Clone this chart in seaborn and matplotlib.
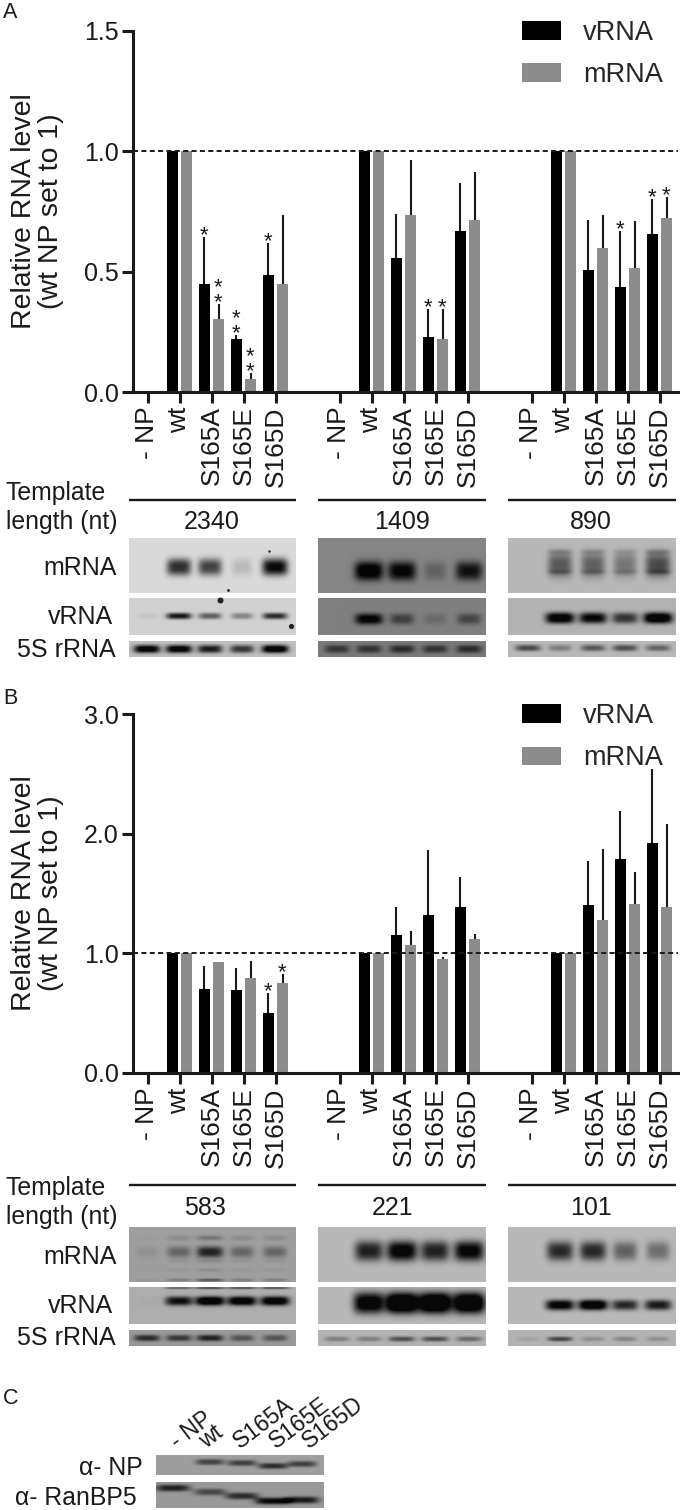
import numpy as np
import pandas as pd
import matplotlib
matplotlib.use("Agg")
import matplotlib.pyplot as plt
import seaborn as sns

sns.set_theme(style="ticks")
plt.rcParams['font.family'] = ['Liberation Sans', 'DejaVu Sans']

W, H = 680, 1510
labels = ['- NP', 'wt', 'S165A', 'S165E', 'S165D']
positions = [0, 1, 2, 3, 4, 6, 7, 8, 9, 10, 12, 13, 14, 15, 16]
tick_labels = labels * 3

A_vrna = [0, 1, .45, .22, .485, 0, 1, .555, .23, .67, 0, 1, .505, .435, .655]
A_mrna = [0, 1, .305, .055, .45, 0, 1, .735, .22, .715, 0, 1, .60, .515, .725]
A_vrna_top = [0, 1, .645, .235, .62, 0, 1, .74, .345, .87, 0, 1, .715, .67, .80]
A_mrna_top = [0, 1, .365, .08, .735, 0, 1, .965, .345, .915, 0, 1, .735, .71, .81]
A_stars = [(2, 'v', 1), (2, 'm', 2), (3, 'v', 2), (3, 'm', 2), (4, 'v', 1),
           (9, 'v', 1), (9, 'm', 1), (15, 'v', 1), (16, 'v', 1), (16, 'm', 1)]

B_vrna = [0, 1, .70, .69, .50, 0, 1, 1.15, 1.32, 1.39, 0, 1, 1.40, 1.79, 1.92]
B_mrna = [0, 1, .93, .79, .75, 0, 1, 1.07, .95, 1.12, 0, 1, 1.28, 1.41, 1.39]
B_vrna_top = [0, 1, .89, .88, .67, 0, 1, 1.39, 1.86, 1.64, 0, 1, 1.77, 2.19, 2.54]
B_mrna_top = [0, 1, .93, .94, .83, 0, 1, 1.19, .97, 1.16, 0, 1, 1.87, 1.68, 2.08]
B_stars = [(4, 'v', 1), (4, 'm', 1)]

colors = {'vRNA': '#000000', 'mRNA': '#8c8c8c'}
fig = plt.figure(figsize=(W / 100, H / 100), dpi=100)
LEFT, RIGHT = 133, 678


def make_axes(top, bottom):
    return fig.add_axes([LEFT / W, 1 - bottom / H, (RIGHT - LEFT) / W, (bottom - top) / H])


def bars(ax, vr, mr, vt, mt, stars, ymax, yticks):
    df = pd.DataFrame({'pos': positions * 2, 'value': vr + mr,
                       'rna': ['vRNA'] * 15 + ['mRNA'] * 15})
    sns.barplot(data=df, x='pos', y='value', hue='rna', hue_order=['vRNA', 'mRNA'],
                palette=colors, native_scale=True, width=.875, gap=.18, ax=ax,
                errorbar=None, saturation=1, linewidth=0, zorder=2)
    off = .219
    for p, v, t in zip(positions, vr, vt):
        if t > v:
            ax.plot([p - off, p - off], [v, t], color='k', lw=1.5, solid_capstyle='butt', zorder=3)
    for p, v, t in zip(positions, mr, mt):
        if t > v:
            ax.plot([p + off, p + off], [v, t], color='k', lw=1.5, solid_capstyle='butt', zorder=3)
    ax.axhline(1, color='k', lw=1.4, ls=(0, (2.6, 1.7)), zorder=4)
    idx = {p: i for i, p in enumerate(positions)}
    for p, kind, n in stars:
        i = idx[p]
        top = vt[i] if kind == 'v' else mt[i]
        xp = p - off if kind == 'v' else p + off
        ax.annotate('\n'.join('*' * n), (xp, top), xytext=(0, -2.9), textcoords='offset points',
                    ha='center', va='baseline', fontsize=16, color='k', linespacing=.62,
                    annotation_clip=False)
    ax.set_xlim((LEFT - 147.5) / 32, (RIGHT - 147.5) / 32)
    ax.set_ylim(0, ymax)
    ax.set_xticks(positions)
    ax.set_xticklabels(tick_labels, rotation=90, fontsize=19)
    ax.set_yticks(yticks)
    ax.set_yticklabels([f'{t:.1f}' for t in yticks], fontsize=18)
    ax.tick_params(axis='both', width=2.2, length=7.8, color='k', labelcolor='k', pad=2.5)
    ax.set_xlabel('')
    ax.set_ylabel('Relative RNA level\n(wt NP set to 1)', fontsize=20.5, color='k', linespacing=1.05)
    ax.yaxis.set_label_coords((64 - LEFT) / (RIGHT - LEFT), .5)
    sns.despine(ax=ax)
    for s in ('left', 'bottom'):
        ax.spines[s].set_linewidth(2.2)
        ax.spines[s].set_color('k')
    ax.patch.set_alpha(0)
    handles, names = ax.get_legend_handles_labels()
    ax.legend(handles, names, frameon=False, fontsize=19.5, loc='upper left',
              bbox_to_anchor=((522 - LEFT) / (RIGHT - LEFT), 1.03), handlelength=1.43,
              handleheight=.7, labelspacing=.6, handletextpad=.82, borderpad=0, borderaxespad=0)


axA = make_axes(31, 392)
bars(axA, A_vrna, A_mrna, A_vrna_top, A_mrna_top, A_stars, 1.5, [0, .5, 1, 1.5])
axB = make_axes(714, 1073)
bars(axB, B_vrna, B_mrna, B_vrna_top, B_mrna_top, B_stars, 3.0, [0, 1, 2, 3])

# overlay in pixel coordinates for blots and annotations
ov = fig.add_axes([0, 0, 1, 1], zorder=5)
ov.patch.set_alpha(0)
ov.axis('off')

lanes1 = [147, 179, 210, 242, 275]
lanes2 = [337, 369, 402, 435, 469]
lanes3 = [528, 560, 593, 625, 658]
cols = [(129, 296), (318, 486), (508, 676)]
laneset = [lanes1, lanes2, lanes3]

# band strengths (0-1) for lanes - NP, wt, S165A, S165E, S165D
# each row: (top, bottom, background, centre, sigma, strengths)
A1 = [(538, 593, .85, 567, 8.5, [0, .55, .48, .1, .68]),
      (598, 635, .82, 616, 3.2, [.04, .62, .38, .25, .55]),
      (641, 657, .75, 649, 4, [.75, .75, .6, .5, .8])]
A2 = [(538, 593, .52, 571, 9.5, [0, .8, .72, .18, .62]),
      (598, 635, .50, 619, 5.5, [0, .72, .35, .12, .32]),
      (641, 657, .48, 649, 4, [.4, .42, .46, .42, .46])]
A3 = [(538, 593, .72, 565, 12, [0, .36, .33, .25, .42]),
      (598, 635, .70, 618, 5.5, [0, .8, .7, .5, .85]),
      (641, 657, .72, 648, 3.2, [.42, .22, .36, .4, .32])]
B1 = [(1227, 1282, .62, 1252, 5.5, [.06, .25, .55, .25, .25]),
      (1287, 1324, .68, 1301, 4.6, [.02, .65, .85, .8, .8]),
      (1330, 1346, .60, 1338, 3.2, [.5, .45, .55, .32, .32])]
B2 = [(1227, 1282, .72, 1251, 10, [0, .58, .75, .58, .72]),
      (1287, 1324, .72, 1303, 10.5, [0, .8, 1, 1, .95]),
      (1330, 1346, .70, 1339, 2.6, [.2, .2, .38, .38, .28])]
B3 = [(1227, 1282, .72, 1251, 9.5, [0, .55, .55, .33, .28]),
      (1287, 1324, .72, 1305, 5.2, [0, .75, .85, .55, .6]),
      (1330, 1346, .70, 1339, 2.4, [.07, .42, .14, .18, .14])]
C_lanes = [173, 210, 242, 273, 302]
C1 = (1455, 1475, .62, [1462, 1462, 1463, 1466, 1464], 3, [0, .4, .42, .5, .42])
C2 = (1482, 1508, .60, [1488, 1492, 1496, 1501, 1500], 3.4, [.55, .38, .5, .68, .58])
B1_extra = [(1238, 2.5, .5), (1261, 2, .25), (1270, 2, .2), (1280, 1.5, .9)]
B1v_extra = [(1288, 1.2, .7)]
A3_extra = [(552, 3, .5), (572, 2.5, .5)]
A1_spots = [(220, 600, 3), (291, 626, 2.6), (228, 590, 1.4), (269, 551, 1.2)]


def blot(x0, x1, row, lanes, half=12.5, extra=()):
    top, bot, bg, cy, sig, vals = row
    cys = cy if isinstance(cy, list) else [cy] * len(lanes)
    xs = np.arange(x0, x1) + .5
    ys = np.arange(top, bot) + .5
    X, Y = np.meshgrid(xs, ys)
    dark = np.zeros_like(X)
    for lx, v, c0 in zip(lanes, vals, cys):
        hw = half * (.75 + .35 * v)
        shape = np.exp(-np.abs((X - lx) / hw) ** 4)
        dark += min(1.5 * v, 1.6) * shape * np.exp(-np.abs((Y - c0) / sig) ** 2.6)
        for c, s, k in extra:
            dark += v * k * shape * np.exp(-((Y - c) / s) ** 2)
    img = bg * (1 - np.clip(dark, 0, 1) * .96)
    ov.imshow(img, cmap='gray', vmin=0, vmax=1, extent=(x0, x1, bot, top),
              aspect='auto', interpolation='bilinear')


for panel, lanes, (x0, x1) in zip((A1, A2, A3), laneset, cols):
    for j, row in enumerate(panel):
        blot(x0, x1, row, lanes, half=14 if panel is not A1 else 13,
             extra=A3_extra if (panel is A3 and j == 0) else ())
for panel, lanes, (x0, x1) in zip((B1, B2, B3), laneset, cols):
    for j, row in enumerate(panel):
        extra = ()
        if panel is B1:
            extra = {0: B1_extra, 1: B1v_extra}.get(j, ())
        blot(x0, x1, row, lanes, extra=extra, half=14 if panel is not B2 else 15)
blot(156, 324, C1, C_lanes, half=16)
blot(156, 324, C2, C_lanes, half=18)
for sx, sy, sr in A1_spots:
    ov.scatter([sx], [sy], s=(sr * 1.44) ** 2, color='#222222', linewidths=0, zorder=3)

ov.set_xlim(0, W)
ov.set_ylim(H, 0)


def T(x, y, s, ha='left', size=18, **kw):
    ov.text(x, y, s, ha=ha, va='center', fontsize=size, color='k', **kw)


for y in (500, 1185):
    for x0, x1 in cols:
        ov.plot([x0, x1], [y, y], color='k', lw=1.7, solid_capstyle='butt')

T(3, 12, 'A', size=15.5)
T(3, 698, 'B', size=15.5)
T(3, 1398, 'C', size=15.5)

for y0, y1 in ((493, 522), (1188, 1217)):
    T(6, y0, 'Template', size=17.8)
    T(6, y1, 'length (nt)', size=17.8)
for x, s in zip((212, 402, 591), ('2340', '1409', '890')):
    T(x, 522, s, ha='center')
for x, s in zip((205, 393, 591), ('583', '221', '101')):
    T(x, 1208, s, ha='center')
for ys in ((568, 617, 650), (1257, 1306, 1338)):
    for y, s, xr in zip(ys, ('mRNA', 'vRNA', '5S rRNA'), (117, 113, 116)):
        T(xr, y, s, ha='right')

for x, s in zip((177, 206, 240, 276, 309), labels):
    ov.text(x, 1449, s, rotation=37, rotation_mode='anchor', ha='left', va='baseline',
            fontsize=16.5, color='k')
T(143, 1468, 'α- NP', ha='right', size=17.8)
T(137, 1498, 'α- RanBP5', ha='right', size=17.8)

fig.savefig('out.png', dpi=100)
